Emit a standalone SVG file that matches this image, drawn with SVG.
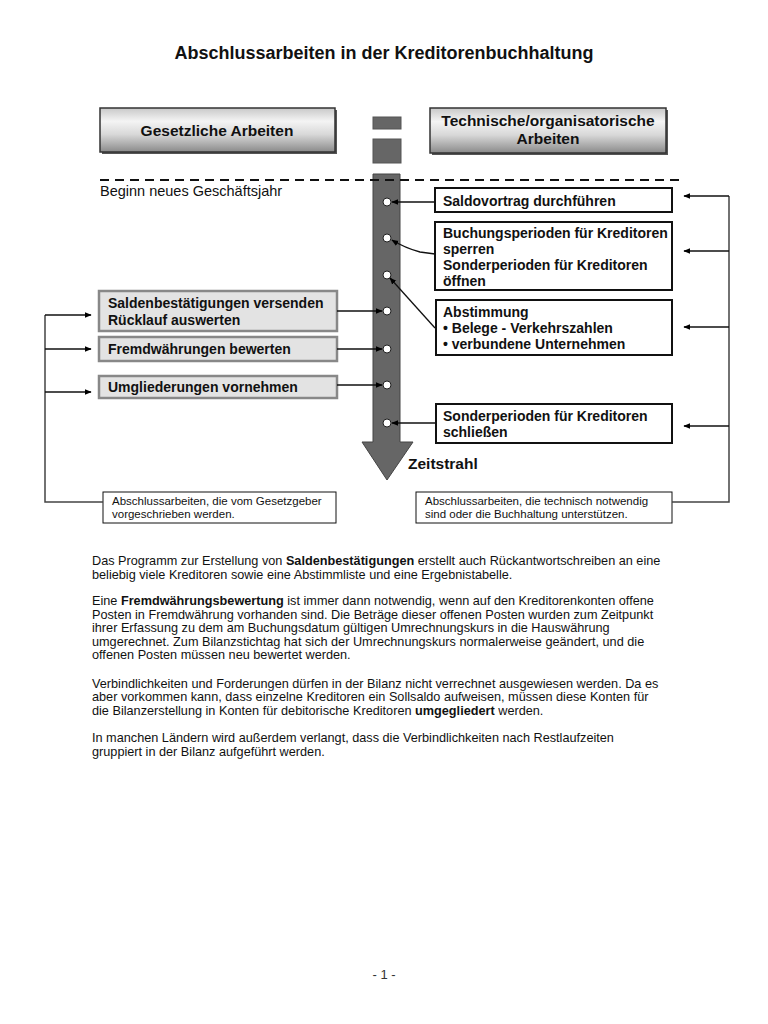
<svg xmlns="http://www.w3.org/2000/svg" width="768" height="1024" viewBox="0 0 768 1024">
<defs>
<linearGradient id="hdr" x1="0" y1="0" x2="0" y2="1">
<stop offset="0" stop-color="#c8c8c8"/>
<stop offset="0.3" stop-color="#f4f4f4"/>
<stop offset="0.6" stop-color="#d8d8d8"/>
<stop offset="1" stop-color="#8a8a8a"/>
</linearGradient>
<marker id="ah" viewBox="0 0 10 10" refX="9" refY="5" markerWidth="7" markerHeight="7" orient="auto" markerUnits="userSpaceOnUse">
<path d="M0,1 L10,5 L0,9 Z" fill="#000"/>
</marker>
</defs>
<style>
text{font-family:"Liberation Sans",Arial,sans-serif;fill:#111}
.b{font-weight:bold}
.hdr{fill:url(#hdr);stroke:#333;stroke-width:1.5}
.shadow{fill:#555}
.tbox{fill:#fff;stroke:#111;stroke-width:2}
.lbox{fill:#e3e3e3;stroke:#888;stroke-width:2.5}
.note{fill:#fff;stroke:#111;stroke-width:1}
.conn{fill:none;stroke:#111;stroke-width:1.3}
.brk{fill:none;stroke:#444;stroke-width:1.5}
.dot{fill:#fff;stroke:#222;stroke-width:1}
.t14{font-size:14px}
.t11{font-size:11.5px}
.t12{font-size:12.7px}
.h{font-size:15.5px}
</style>
<rect width="768" height="1024" fill="#fff"/>

<text x="384" y="59" text-anchor="middle" class="b" font-size="18">Abschlussarbeiten in der Kreditorenbuchhaltung</text>

<g id="hdr-gesetzlich">
<rect x="102" y="110" width="235" height="44" class="shadow"/>
<rect x="100" y="108" width="235" height="44" class="hdr"/>
<text x="217" y="136" text-anchor="middle" class="b h">Gesetzliche Arbeiten</text>
</g>
<g id="hdr-technisch">
<rect x="432" y="110" width="236" height="45" class="shadow"/>
<rect x="430" y="108" width="236" height="45" class="hdr"/>
<text x="548" y="126" text-anchor="middle" class="b h">Technische/organisatorische</text>
<text x="548" y="144" text-anchor="middle" class="b h">Arbeiten</text>
</g>

<g id="zeitstrahl">
<rect x="373" y="117" width="28" height="12" fill="#666" stroke="#555" stroke-width="1"/>
<rect x="373" y="139" width="28" height="24" fill="#666" stroke="#555" stroke-width="1"/>
<path d="M373,174 L400,174 L400,442 L413,442 L387,480 L362,442 L373,442 Z" fill="#666" stroke="#444" stroke-width="1"/>
<text x="408" y="469" class="b h">Zeitstrahl</text>
</g>

<line x1="100" y1="180" x2="680" y2="180" stroke="#111" stroke-width="2" stroke-dasharray="9,6"/>
<text x="100" y="196" font-size="14.5">Beginn neues Geschäftsjahr</text>

<g id="dots">
<circle cx="387" cy="202" r="4" class="dot"/>
<circle cx="387" cy="238" r="4" class="dot"/>
<circle cx="387" cy="275" r="4" class="dot"/>
<circle cx="387" cy="311" r="4" class="dot"/>
<circle cx="387" cy="349" r="4" class="dot"/>
<circle cx="387" cy="385" r="4" class="dot"/>
<circle cx="387" cy="423" r="4" class="dot"/>
</g>

<g id="n-saldovortrag">
<rect x="435" y="188" width="237" height="24" class="tbox"/>
<text x="443" y="206" class="b t14">Saldovortrag durchführen</text>
</g>
<g id="n-buchungsperioden">
<rect x="435" y="222" width="237" height="68" class="tbox"/>
<text x="443" y="238" class="b t14">Buchungsperioden für Kreditoren</text>
<text x="443" y="254" class="b t14">sperren</text>
<text x="443" y="270" class="b t14">Sonderperioden für Kreditoren</text>
<text x="443" y="286" class="b t14">öffnen</text>
</g>
<g id="n-abstimmung">
<rect x="436" y="300" width="236" height="55" class="tbox"/>
<text x="443" y="317" class="b t14">Abstimmung</text>
<text x="443" y="333" class="b t14">• Belege - Verkehrszahlen</text>
<text x="443" y="349" class="b t14">• verbundene Unternehmen</text>
</g>
<g id="n-sonderperioden">
<rect x="436" y="404" width="236" height="39" class="tbox"/>
<text x="443" y="421" class="b t14">Sonderperioden für Kreditoren</text>
<text x="443" y="437" class="b t14">schließen</text>
</g>

<g id="n-saldenbest">
<rect x="99" y="291" width="238" height="40" class="lbox"/>
<text x="108" y="308" class="b t14">Saldenbestätigungen versenden</text>
<text x="108" y="325" class="b t14">Rücklauf auswerten</text>
</g>
<g id="n-fremdw">
<rect x="99" y="337" width="238" height="24" class="lbox"/>
<text x="108" y="354" class="b t14">Fremdwährungen bewerten</text>
</g>
<g id="n-umgl">
<rect x="99" y="376" width="238" height="22" class="lbox"/>
<text x="108" y="392" class="b t14">Umgliederungen vornehmen</text>
</g>

<g id="n-note-left">
<rect x="103" y="492" width="233" height="31" class="note"/>
<text x="112" y="505" class="t11">Abschlussarbeiten, die vom Gesetzgeber</text>
<text x="112" y="518" class="t11">vorgeschrieben werden.</text>
</g>
<g id="n-note-right">
<rect x="416" y="492" width="256" height="31" class="note"/>
<text x="425" y="505" class="t11">Abschlussarbeiten, die technisch notwendig</text>
<text x="425" y="518" class="t11">sind oder die Buchhaltung unterstützen.</text>
</g>

<g id="connectors">
<line x1="435" y1="202" x2="392" y2="202" class="conn" marker-end="url(#ah)"/>
<path d="M435,254 L420,252 Q405,248 392,240" class="conn" marker-end="url(#ah)"/>
<line x1="435" y1="328" x2="390" y2="278" class="conn" marker-end="url(#ah)"/>
<line x1="436" y1="423" x2="392" y2="423" class="conn" marker-end="url(#ah)"/>
<line x1="337" y1="311" x2="382" y2="311" class="conn" marker-end="url(#ah)"/>
<line x1="337" y1="349" x2="382" y2="349" class="conn" marker-end="url(#ah)"/>
<line x1="337" y1="385" x2="382" y2="385" class="conn" marker-end="url(#ah)"/>
<path d="M103,502 L45,502 L45,315" class="brk"/>
<line x1="45" y1="315" x2="91" y2="315" class="conn" marker-end="url(#ah)"/>
<line x1="45" y1="349" x2="91" y2="349" class="conn" marker-end="url(#ah)"/>
<line x1="45" y1="392" x2="91" y2="392" class="conn" marker-end="url(#ah)"/>
<path d="M672,502 L729,502 L729,196" class="brk"/>
<line x1="729" y1="196" x2="684" y2="196" class="conn" marker-end="url(#ah)"/>
<line x1="729" y1="251" x2="684" y2="251" class="conn" marker-end="url(#ah)"/>
<line x1="729" y1="327" x2="684" y2="327" class="conn" marker-end="url(#ah)"/>
<line x1="729" y1="426" x2="684" y2="426" class="conn" marker-end="url(#ah)"/>
</g>

<g id="body" class="t12">
<text x="92" y="565">Das Programm zur Erstellung von <tspan class="b">Saldenbestätigungen</tspan> erstellt auch Rückantwortschreiben an eine</text>
<text x="92" y="579">beliebig viele Kreditoren sowie eine Abstimmliste und eine Ergebnistabelle.</text>
<text x="92" y="605">Eine <tspan class="b">Fremdwährungsbewertung</tspan> ist immer dann notwendig, wenn auf den Kreditorenkonten offene</text>
<text x="92" y="619">Posten in Fremdwährung vorhanden sind. Die Beträge dieser offenen Posten wurden zum Zeitpunkt</text>
<text x="92" y="632">ihrer Erfassung zu dem am Buchungsdatum gültigen Umrechnungskurs in die Hauswährung</text>
<text x="92" y="646">umgerechnet. Zum Bilanzstichtag hat sich der Umrechnungskurs normalerweise geändert, und die</text>
<text x="92" y="659">offenen Posten müssen neu bewertet werden.</text>
<text x="92" y="688">Verbindlichkeiten und Forderungen dürfen in der Bilanz nicht verrechnet ausgewiesen werden. Da es</text>
<text x="92" y="701">aber vorkommen kann, dass einzelne Kreditoren ein Sollsaldo aufweisen, müssen diese Konten für</text>
<text x="92" y="715">die Bilanzerstellung in Konten für debitorische Kreditoren <tspan class="b">umgegliedert</tspan> werden.</text>
<text x="92" y="742">In manchen Ländern wird außerdem verlangt, dass die Verbindlichkeiten nach Restlaufzeiten</text>
<text x="92" y="756">gruppiert in der Bilanz aufgeführt werden.</text>
</g>

<text x="384" y="979" text-anchor="middle" font-size="13" style="fill:#333">- 1 -</text>
</svg>
